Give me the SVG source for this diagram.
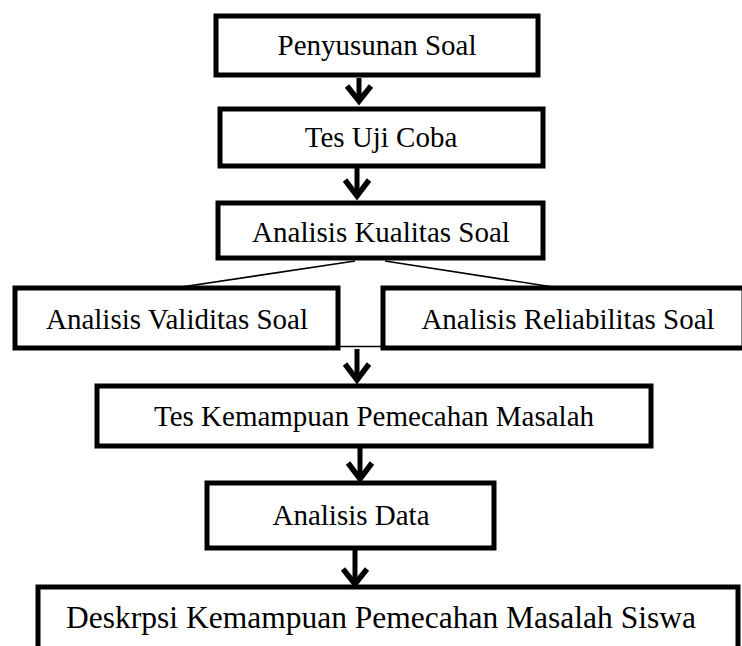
<svg xmlns="http://www.w3.org/2000/svg" width="742" height="646" viewBox="0 0 742 646">
<style>
.box{fill:#fff;stroke:#000;stroke-width:5}
.t{font-family:"Liberation Serif","Times New Roman",serif;font-size:29px;fill:#000;text-anchor:middle}
.big{font-size:31.5px}
.thin{stroke:#000;stroke-width:1.6;fill:none}
.shaft{stroke:#000;stroke-width:5;fill:none}
.head{stroke:#000;stroke-width:5.5;fill:none;stroke-linejoin:miter;stroke-miterlimit:10}
</style>
<rect width="742" height="646" fill="#fff"/>
<g id="connectors">
<line class="thin" x1="355" y1="261" x2="168" y2="289"/>
<line class="thin" x1="385" y1="261" x2="566" y2="289"/>
<line class="thin" x1="340" y1="346.5" x2="382" y2="346.5"/>
<g id="a1"><line class="shaft" x1="359" y1="78" x2="359" y2="100"/><polyline class="head" points="347,86 359,101 371,86"/></g>
<g id="a2"><line class="shaft" x1="357" y1="168" x2="357" y2="195"/><polyline class="head" points="345,180 357,196 369,180"/></g>
<g id="a3"><line class="shaft" x1="357" y1="349" x2="357" y2="379"/><polyline class="head" points="345,364 357,380 369,364"/></g>
<g id="a4"><line class="shaft" x1="360" y1="448" x2="360" y2="479"/><polyline class="head" points="348,463 360,479 372,463"/></g>
<g id="a5"><line class="shaft" x1="355" y1="550" x2="355" y2="583"/><polyline class="head" points="343,569 355,584 367,569"/></g>
</g>
<g id="n1"><rect class="box" x="216" y="16" width="322" height="59"/><text class="t" x="377" y="55">Penyusunan Soal</text></g>
<g id="n2"><rect class="box" x="220" y="109" width="323" height="57"/><text class="t" x="381" y="147">Tes Uji Coba</text></g>
<g id="n3"><rect class="box" x="218" y="203" width="325" height="55"/><text class="t" x="381" y="242">Analisis Kualitas Soal</text></g>
<g id="n4"><rect class="box" x="15" y="288" width="323" height="60"/><text class="t" x="177" y="329">Analisis Validitas Soal</text></g>
<g id="n5"><rect class="box" x="383" y="288" width="361" height="60"/><text class="t" x="568" y="329">Analisis Reliabilitas Soal</text></g>
<g id="n6"><rect class="box" x="97" y="386" width="554" height="60"/><text class="t" x="374" y="426">Tes Kemampuan Pemecahan Masalah</text></g>
<g id="n7"><rect class="box" x="207" y="483" width="287" height="65"/><text class="t" x="351" y="525">Analisis Data</text></g>
<g id="n8"><rect class="box" x="38" y="587" width="700" height="80"/><text class="t big" x="381" y="628">Deskrpsi Kemampuan Pemecahan Masalah Siswa</text></g>
</svg>
